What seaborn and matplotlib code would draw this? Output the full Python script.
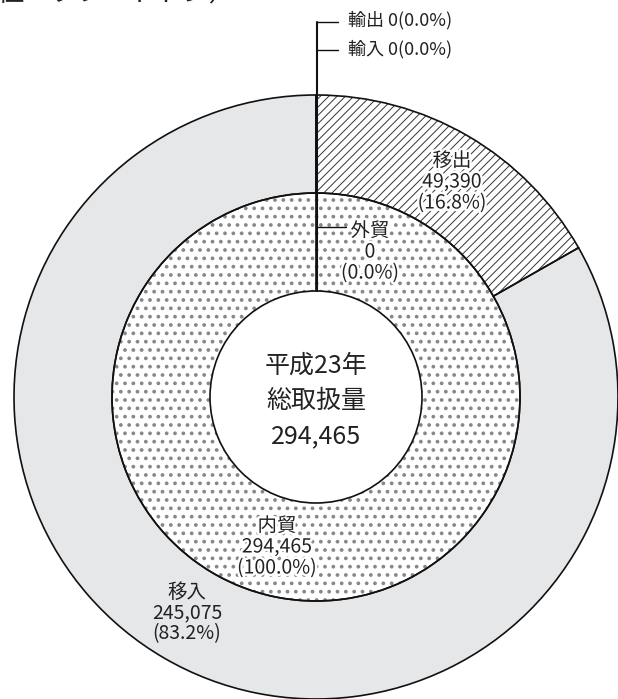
import matplotlib
matplotlib.use('Agg')
import matplotlib.pyplot as plt
import matplotlib.patheffects as pe
import seaborn as sns

# outer ring: 輸出 / 輸入 / 移出 / 移入
outer_labels = ['輸出', '輸入', '移出', '移入']
outer_values = [0, 0, 49390, 245075]
# inner ring: 外貿 / 内貿
inner_labels = ['外貿', '内貿']
inner_values = [0, 294465]
center_title = '平成23年\n総取扱量'
unit_label = '（単位：フレートトン）'

sns.set_theme(style='white')
plt.rcParams['font.family'] = ['Noto Sans CJK JP', 'DejaVu Sans']

W, H = 618, 699
fig = plt.figure(figsize=(W / 100, H / 100), dpi=100)
ax = fig.add_axes([0, 0, 1, 1])

cx, cy = 316, 302
r_out, r_mid, r_in = 302, 204, 106
total = sum(inner_values)


def fmt(v):
    return f'{v:,}', f'({v / total * 100:.1f}%)'


halo = [pe.withStroke(linewidth=3.5, foreground='white')]

# fill layers
plt.rcParams['hatch.linewidth'] = 0.7
ax.pie(outer_values, radius=r_out, center=(cx, cy), startangle=90,
       counterclock=False, colors=['white', 'white', 'white', '#e6e7e9'],
       hatch=['', '', '////', ''],
       wedgeprops=dict(width=r_out - r_mid, edgecolor='#333333', linewidth=0))
plt.rcParams['hatch.linewidth'] = 1.5
ax.pie(inner_values, radius=r_mid, center=(cx, cy), startangle=90,
       counterclock=False, colors=['white', 'white'], hatch=['..', '..'],
       wedgeprops=dict(width=r_mid - r_in, edgecolor='#888888', linewidth=0))
# outlines
ax.pie(outer_values, radius=r_out, center=(cx, cy), startangle=90,
       counterclock=False,
       wedgeprops=dict(width=r_out - r_mid, fill=False, edgecolor='#111111', linewidth=1.2))
ax.pie(inner_values, radius=r_mid, center=(cx, cy), startangle=90,
       counterclock=False,
       wedgeprops=dict(width=r_mid - r_in, fill=False, edgecolor='#111111', linewidth=1.2))

ax.set_xlim(0, W)
ax.set_ylim(0, H)
ax.set_aspect('equal')
ax.axis('off')

# leader lines for zero-size segments
ax.plot([cx + 1, cx + 1], [H - 22, cy + r_in], color='#111111', lw=1.5)
ax.plot([cx + 1, cx + 22], [H - 22, H - 22], color='#111111', lw=1)
ax.plot([cx + 1, cx + 22], [H - 50, H - 50], color='#111111', lw=1)
ax.plot([cx + 1, cx + 30], [H - 227, H - 227], color='#111111', lw=1)

txt = dict(color='#222222', ha='center', va='center', multialignment='center')

# top small labels
for lbl, v, y in zip(outer_labels[:2], outer_values[:2], [H - 20, H - 49]):
    n, p = fmt(v)
    ax.text(348, y, f'{lbl} {n}{p}', fontsize=13, color='#222222',
            ha='left', va='center')

n, p = fmt(outer_values[2])
ax.text(452, H - 182, f'{outer_labels[2]}\n{n}\n{p}', fontsize=14,
        linespacing=1.0, path_effects=halo, **txt)
n, p = fmt(outer_values[3])
ax.text(187, H - 613, f'{outer_labels[3]}\n{n}\n{p}', fontsize=14,
        linespacing=1.0, **txt)
n, p = fmt(inner_values[0])
ax.text(370, H - 252, f'{inner_labels[0]}\n{n}\n{p}', fontsize=14,
        linespacing=1.0, path_effects=halo, **txt)
n, p = fmt(inner_values[1])
ax.text(277, H - 547, f'{inner_labels[1]}\n{n}\n{p}', fontsize=14,
        linespacing=1.0, path_effects=halo, **txt)

ax.text(cx, H - 401, f'{center_title}\n{total:,}', fontsize=18,
        linespacing=1.45, **txt)

ax.text(-54, H + 6, unit_label, fontsize=19, color='#222222',
        ha='left', va='center')

fig.savefig('out.png', dpi=100)
